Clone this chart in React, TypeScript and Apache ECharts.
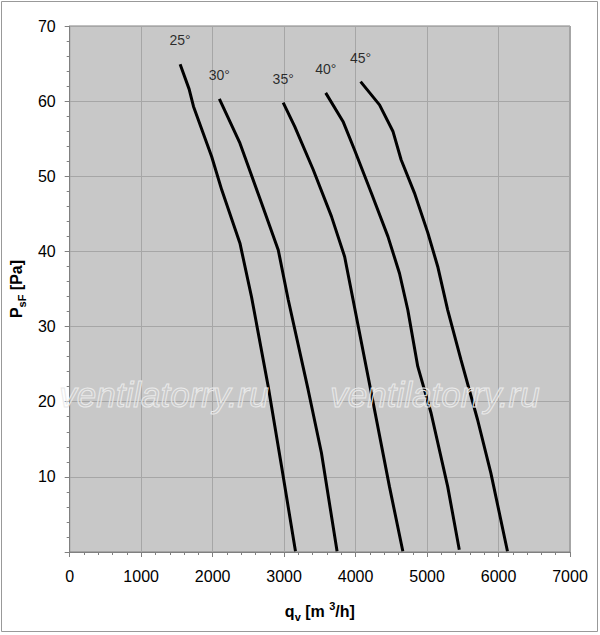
import React, { useEffect, useRef } from "react";
import * as echarts from "echarts";

// Fan curves: [flow q_v (m³/h), pressure P_sF (Pa)]
const angleLabels = ["25°", "30°", "35°", "40°", "45°"];

const curve25 = [
  [1545, 64.9], [1671, 61.6], [1732, 59.3], [1987, 52.6], [2127, 48.2],
  [2382, 41.1], [2545, 33.9], [2778, 22.0], [2964, 11.4], [3159, 0.1],
];
const curve30 = [
  [2094, 60.3], [2382, 54.4], [2685, 46.4], [2918, 40.2], [3057, 33.6],
  [3336, 21.6], [3522, 13.2], [3741, 0.1],
];
const curve35 = [
  [2987, 59.8], [3149, 56.6], [3406, 50.9], [3661, 44.7], [3847, 39.3],
  [3964, 33.6], [4219, 21.2], [4474, 8.7], [4661, 0.1],
];
const curve40 = [
  [3582, 61.1], [3824, 57.3], [3986, 53.5], [4219, 47.8], [4452, 42.0],
  [4614, 37.1], [4731, 32.2], [4870, 24.7], [5056, 18.5], [5289, 8.7],
  [5451, 0.3],
];
const curve45 = [
  [4070, 62.6], [4335, 59.5], [4522, 56.0], [4637, 52.2], [4823, 47.8],
  [5010, 42.5], [5149, 38.0], [5289, 32.2], [5474, 25.6], [5707, 17.6],
  [5893, 10.5], [6125, 0.1],
];

const curves = [curve25, curve30, curve35, curve40, curve45];

const xMin = 0;
const xMax = 7000;
const xInterval = 1000;
const yMin = 0;
const yMax = 70;
const yInterval = 10;

const watermarkText = "ventilatorry.ru";

export default function App() {
  const ref = useRef<HTMLDivElement>(null);

  useEffect(() => {
    document.body.style.margin = "0";
    if (!ref.current) return;
    const chart = echarts.init(ref.current, undefined, { renderer: "svg" });
    const font = "'Liberation Sans', Arial, sans-serif";

    const lineSeries = curves.map((c, i) => ({
      type: "line",
      name: angleLabels[i],
      data: c,
      symbol: "none",
      smooth: false,
      lineStyle: { color: "#000000", width: 3 },
      z: 3,
    }));

    const labelSeries = {
      type: "scatter",
      name: "labels",
      symbolSize: 0,
      data: curves.map((c, i) => ({ name: angleLabels[i], value: c[0] })),
      label: {
        show: true,
        position: "top",
        distance: 17,
        formatter: (p: any) => p.name,
        color: "#000000",
        fontSize: 14,
        fontFamily: font,
      },
      silent: true,
      z: 4,
    };

    const wm = (x: number) => ({
      type: "text",
      x,
      y: 394,
      style: {
        text: watermarkText,
        font: `italic 35px ${font}`,
        fill: "none",
        stroke: "#eaeaea",
        lineWidth: 1,
        align: "center",
        verticalAlign: "middle",
      },
      silent: true,
      z: 10,
    });

    chart.setOption({
      animation: false,
      backgroundColor: "#ffffff",
      textStyle: { fontFamily: font },
      grid: {
        left: 67,
        right: 30,
        top: 26,
        bottom: 83,
        show: true,
        backgroundColor: "#c8c8c8",
        borderColor: "#808080",
        borderWidth: 1,
      },
      xAxis: {
        type: "value",
        min: xMin,
        max: xMax,
        interval: xInterval,
        name: "{b|q}{s|v}{b| [m }{u|3}{b|/h]}",
        nameLocation: "middle",
        nameGap: 48,
        nameTextStyle: {
          rich: {
            b: { fontSize: 16, fontWeight: "bold", color: "#000", fontFamily: font, lineHeight: 22 },
            s: { fontSize: 11, fontWeight: "bold", color: "#000", fontFamily: font, verticalAlign: "bottom", lineHeight: 22 },
            u: { fontSize: 11, fontWeight: "bold", color: "#000", fontFamily: font, verticalAlign: "top", lineHeight: 22 },
          },
        },
        axisLine: { show: true, lineStyle: { color: "#808080", width: 1 } },
        axisTick: { show: true, length: 5, lineStyle: { color: "#808080" } },
        minorTick: { show: true, splitNumber: 5, length: 3, lineStyle: { color: "#808080" } },
        axisLabel: {
          color: "#000000",
          fontSize: 16,
          margin: 16,
          formatter: (v: number) => String(v),
        },
        splitLine: { show: true, lineStyle: { color: "#a6a6a6", width: 1 } },
      },
      yAxis: {
        type: "value",
        min: yMin,
        max: yMax,
        interval: yInterval,
        name: "{b|P}{s|sF}{b| [Pa]}",
        nameLocation: "middle",
        nameGap: 42,
        nameRotate: 90,
        nameTextStyle: {
          rich: {
            b: { fontSize: 16, fontWeight: "bold", color: "#000", fontFamily: font, lineHeight: 22 },
            s: { fontSize: 11, fontWeight: "bold", color: "#000", fontFamily: font, verticalAlign: "bottom", lineHeight: 22 },
          },
        },
        axisLine: { show: true, lineStyle: { color: "#808080", width: 1 } },
        axisTick: { show: true, length: 5, lineStyle: { color: "#808080" } },
        minorTick: { show: true, splitNumber: 5, length: 3, lineStyle: { color: "#808080" } },
        axisLabel: {
          color: "#000000",
          fontSize: 16,
          margin: 14,
          showMinLabel: false,
          formatter: (v: number) => String(v),
        },
        splitLine: { show: true, lineStyle: { color: "#a6a6a6", width: 1 } },
      },
      graphic: [
        {
          type: "rect",
          shape: { x: 1.5, y: 1.5, width: 596, height: 630 },
          style: { fill: "none", stroke: "#999999", lineWidth: 1 },
          silent: true,
          z: 0,
        },
        wm(164),
        wm(435),
      ],
      series: [...lineSeries, labelSeries],
    });

    return () => {
      chart.dispose();
    };
  }, []);

  return <div ref={ref} style={{ width: 600, height: 635 }} />;
}
